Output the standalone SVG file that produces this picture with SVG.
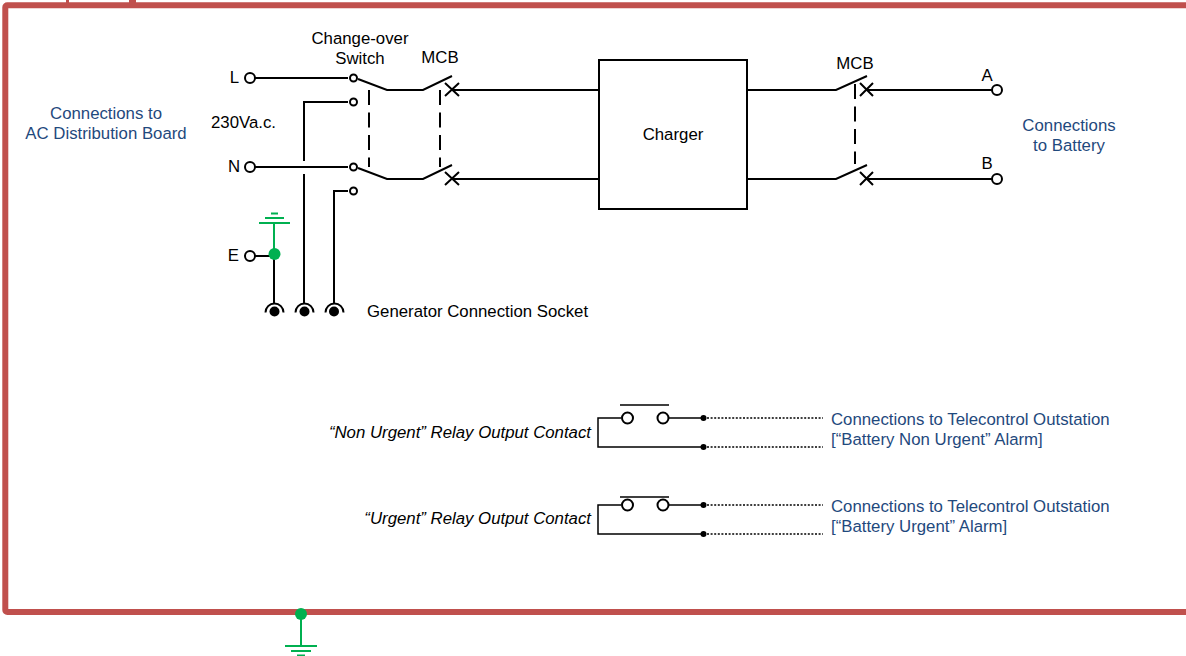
<svg xmlns="http://www.w3.org/2000/svg" width="1186" height="656" viewBox="0 0 1186 656">
<style>
text{font-family:"Liberation Sans",Arial,sans-serif;font-size:16.8px;fill:#000}
.b{fill:#1f497d}
.i{font-style:italic}
.m{text-anchor:middle}
.e{text-anchor:end}
.w{fill:none;stroke:#000;stroke-width:2}
.t{fill:none;stroke:#000;stroke-width:1.5}
.d{fill:none;stroke:#000;stroke-width:2;stroke-dasharray:15 7.5}
.s{fill:none;stroke:#000;stroke-width:1.5;stroke-dasharray:2 1.6}
.g{fill:none;stroke:#00b050;stroke-width:2}
.o{fill:#fff;stroke:#000;stroke-width:2}
.n{fill:#000}
</style>
<path id="clipped-marks" d="M66 0h3v3h-3zM129 0h7v3h-7z" fill="#c0504d"/>
<rect id="frame" x="5.300" y="5.300" width="1230" height="606.700" rx="2" fill="none" stroke="#c0504d" stroke-width="6"/>
<g id="connectors">
<path class="w" d="M255 78H348M358 79L387 90H423L452 76M452 90H599"/>
<path class="w" d="M348 102H304V161M304 174V303"/>
<path class="w" d="M255 167H348M358 168L387 179H423L452 165M452 179H599"/>
<path class="w" d="M348 191H334V303"/>
<path class="w" d="M255 256H274M274 256V303"/>
<path class="d" d="M369 90V167"/>
<path class="d" d="M440 90V167"/>
<path class="w" d="M747 90H836L867 76M867 90H992"/>
<path class="w" d="M747 179H836L867 165M867 179H992"/>
<path class="d" d="M855 84V164"/>
<path class="w" d="M445 83L459 96M445 96L459 83M445 172L459 185M445 185L459 172"/>
<path class="w" d="M860 83L873 96M860 96L873 83M860 172L873 185M860 185L873 172"/>
<path class="g" d="M274 256V222M259 223H290"/>
<path class="g" d="M265 218H284M271 213.500H278" />
<path class="g" d="M301 615V645M285 646H317"/>
<path class="g" d="M291 651H311M297 655.500H305"/>
<path class="t" d="M621 418H598V447H703M669 418H703"/>
<path class="t" d="M621 505H598V534H703M669 505H703"/>
<path class="t" d="M620 405H669M620 497H669"/>
<path class="s" d="M707 418H823M707 447H823M707 505H823M707 534H823"/>
</g>
<g id="charger"><rect x="599" y="60" width="148" height="149" fill="#fff" stroke="#000" stroke-width="2"/><text class="m" x="673" y="140">Charger</text></g>
<g id="terminal-L"><circle class="o" cx="250" cy="78" r="5"/><text class="e" x="239" y="83">L</text></g>
<g id="terminal-N"><circle class="o" cx="250" cy="167" r="5"/><text class="e" x="240" y="172">N</text></g>
<g id="terminal-E"><circle class="o" cx="250" cy="256" r="5"/><circle cx="274.500" cy="254" r="6" fill="#00b050"/><text class="e" x="239" y="261">E</text></g>
<g id="terminal-A"><circle class="o" cx="997" cy="90" r="5"/><text class="m" x="987" y="81">A</text></g>
<g id="terminal-B"><circle class="o" cx="997" cy="179" r="5"/><text class="m" x="987" y="169">B</text></g>
<g id="changeover-contacts"><circle class="o" cx="353.500" cy="78" r="3.500"/><circle class="o" cx="353.500" cy="102" r="3.500"/><circle class="o" cx="353.500" cy="167" r="3.500"/><circle class="o" cx="353.500" cy="191" r="3.500"/></g>
<g id="generator-socket">
<path class="w" d="M265.500 312.500a9 9 0 0 1 18 0M295.500 312.500a9 9 0 0 1 18 0M325.500 312.500a9 9 0 0 1 18 0"/>
<circle class="n" cx="274.500" cy="311.500" r="5"/><circle class="n" cx="304.500" cy="311.500" r="5"/><circle class="n" cx="334" cy="311.500" r="5"/>
<text x="367" y="317">Generator Connection Socket</text></g>
<g id="labels">
<text class="m" x="360" y="44">Change-over</text><text class="m" x="360" y="64">Switch</text>
<text class="m" x="440" y="63">MCB</text><text class="m" x="855" y="69">MCB</text>
<text x="211" y="128">230Va.c.</text>
<text class="b m" x="106" y="119">Connections to</text><text class="b m" x="106" y="139">AC Distribution Board</text>
<text class="b m" x="1069" y="131">Connections</text><text class="b m" x="1069" y="151">to Battery</text>
</g>
<g id="relay-non-urgent">
<circle class="o" cx="627.500" cy="418" r="5.500"/><circle class="o" cx="663" cy="418" r="5.500"/>
<circle class="n" cx="703.500" cy="418" r="3"/><circle class="n" cx="703.500" cy="447" r="3"/>
<text class="i e" x="591" y="438">“Non Urgent” Relay Output Contact</text>
<text class="b" x="831" y="425">Connections to Telecontrol Outstation</text><text class="b" x="831" y="445">[“Battery Non Urgent” Alarm]</text>
</g>
<g id="relay-urgent">
<circle class="o" cx="627.500" cy="505" r="5.500"/><circle class="o" cx="663" cy="505" r="5.500"/>
<circle class="n" cx="703.500" cy="505" r="3"/><circle class="n" cx="703.500" cy="534" r="3"/>
<text class="i e" x="591" y="524">“Urgent” Relay Output Contact</text>
<text class="b" x="831" y="512">Connections to Telecontrol Outstation</text><text class="b" x="831" y="532">[“Battery Urgent” Alarm]</text>
</g>
<circle id="earth-dot" cx="301" cy="614" r="6" fill="#00b050"/>
</svg>
